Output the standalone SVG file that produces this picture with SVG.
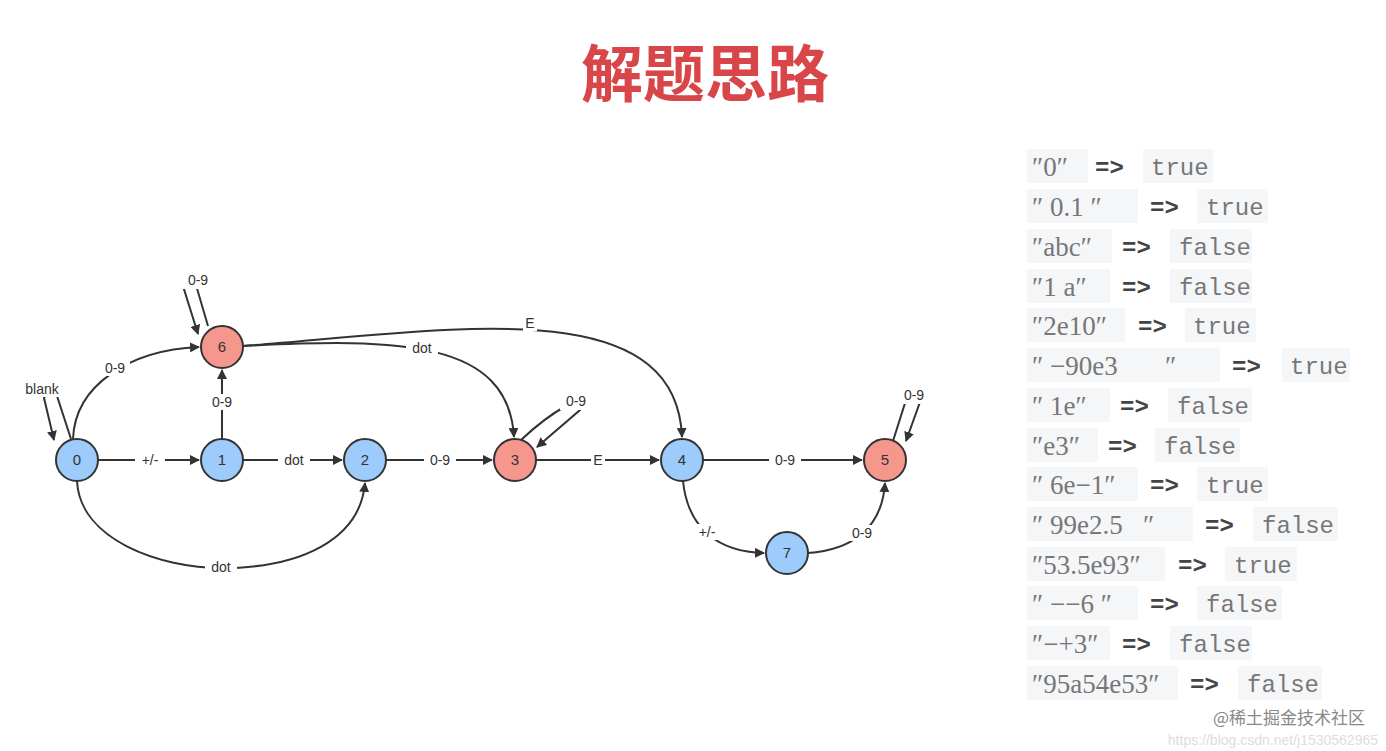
<svg xmlns="http://www.w3.org/2000/svg" width="1386" height="751" viewBox="0 0 1386 751">
<style>
.n{stroke:#333;stroke-width:2}
.b{fill:#9dcbfb}.r{fill:#f6978d}
.nt{font-family:"Liberation Sans",Arial,sans-serif;font-size:15px;fill:#333;text-anchor:middle}
.e{fill:none;stroke:#333;stroke-width:2}
.l{font-family:"Liberation Sans",Arial,sans-serif;font-size:14px;fill:#333;text-anchor:middle}
.lb{fill:#fff}
.bx{fill:#f5f6f8}
.q{font-family:"Liberation Serif","Noto Sans CJK SC",serif;font-size:27px;fill:#777}
.m{font-family:"Liberation Mono",monospace;font-size:24px;fill:#777}
.a{font-family:"Liberation Mono",monospace;font-size:24px;fill:#444;font-weight:bold}
</style>
<defs><marker id="ar" markerWidth="10" markerHeight="10" refX="9" refY="5" orient="auto" markerUnits="userSpaceOnUse"><path d="M0,0 L10,5 L0,10 Z" fill="#333"/></marker></defs>
<rect width="1386" height="751" fill="#fff"/>
<text x="705" y="97" text-anchor="middle" font-family="Noto Sans CJK SC,sans-serif" font-weight="bold" font-size="62" fill="#d9464a">解题思路</text>
<g id="connectors">
<path class="e" d="M71,439 L57,396 Q50,385 44,398 L54,440" marker-end="url(#ar)"/>
<path class="e" d="M73,439 C75,385 130,350 199,347" marker-end="url(#ar)"/>
<path class="e" d="M98,460 L199,460" marker-end="url(#ar)"/>
<path class="e" d="M243,460 L342,460" marker-end="url(#ar)"/>
<path class="e" d="M386,460 L492,460" marker-end="url(#ar)"/>
<path class="e" d="M536,460 L659,460" marker-end="url(#ar)"/>
<path class="e" d="M703,460 L862,460" marker-end="url(#ar)"/>
<path class="e" d="M222,439 L222,370" marker-end="url(#ar)"/>
<path class="e" d="M208,326 L196,285 Q190,272 183,286 L198,334" marker-end="url(#ar)"/>
<path class="e" d="M243,346 C400,338 508,340 514,437" marker-end="url(#ar)"/>
<path class="e" d="M243,346 C450,330 676,290 682,437" marker-end="url(#ar)"/>
<path class="e" d="M521,440 C540,422 555,412 566,406 Q578,398 580,410 L537,447" marker-end="url(#ar)"/>
<path class="e" d="M893,441 L906,400 Q914,390 920,402 L906,441" marker-end="url(#ar)"/>
<path class="e" d="M77,481 C80,540 160,568 222,568 C300,568 360,540 365,483" marker-end="url(#ar)"/>
<path class="e" d="M683,481 C688,530 720,552 764,553" marker-end="url(#ar)"/>
<path class="e" d="M808,553 C850,550 882,530 885,483" marker-end="url(#ar)"/>
<g>
<rect class="lb" x="98" y="360" width="32" height="16"/><text class="l" x="115" y="373">0-9</text>
<rect class="lb" x="135" y="452" width="30" height="16"/><text class="l" x="150" y="465">+/-</text>
<rect class="lb" x="278" y="452" width="32" height="16"/><text class="l" x="294" y="465">dot</text>
<rect class="lb" x="424" y="452" width="32" height="16"/><text class="l" x="440" y="465">0-9</text>
<rect class="lb" x="591" y="452" width="14" height="16"/><text class="l" x="598" y="465">E</text>
<rect class="lb" x="769" y="452" width="32" height="16"/><text class="l" x="785" y="465">0-9</text>
<rect class="lb" x="206" y="394" width="32" height="16"/><text class="l" x="222" y="407">0-9</text>
<rect class="lb" x="406" y="340" width="32" height="16"/><text class="l" x="422" y="353">dot</text>
<rect class="lb" x="523" y="315" width="14" height="16"/><text class="l" x="530" y="328">E</text>
<rect class="lb" x="205" y="559" width="32" height="16"/><text class="l" x="221" y="572">dot</text>
<rect class="lb" x="692" y="524" width="30" height="16"/><text class="l" x="707" y="537">+/-</text>
<rect class="lb" x="846" y="525" width="32" height="16"/><text class="l" x="862" y="538">0-9</text>
<rect class="lb" x="22" y="379" width="40" height="18"/><text class="l" x="42" y="394">blank</text>
<rect class="lb" x="182" y="271" width="32" height="18"/><text class="l" x="198" y="285">0-9</text>
<rect class="lb" x="560" y="392" width="32" height="18"/><text class="l" x="576" y="406">0-9</text>
<rect class="lb" x="898" y="386" width="32" height="18"/><text class="l" x="914" y="400">0-9</text>
</g>
</g>
<g id="n0"><circle class="n b" cx="77" cy="460" r="21"/><text class="nt" x="77" y="465">0</text></g>
<g id="n1"><circle class="n b" cx="222" cy="460" r="21"/><text class="nt" x="222" y="465">1</text></g>
<g id="n2"><circle class="n b" cx="365" cy="460" r="21"/><text class="nt" x="365" y="465">2</text></g>
<g id="n3"><circle class="n r" cx="515" cy="460" r="21"/><text class="nt" x="515" y="465">3</text></g>
<g id="n4"><circle class="n b" cx="682" cy="460" r="21"/><text class="nt" x="682" y="465">4</text></g>
<g id="n5"><circle class="n r" cx="885" cy="460" r="21"/><text class="nt" x="885" y="465">5</text></g>
<g id="n6"><circle class="n r" cx="222" cy="347" r="21"/><text class="nt" x="222" y="352">6</text></g>
<g id="n7"><circle class="n b" cx="787" cy="553" r="21"/><text class="nt" x="787" y="558">7</text></g>
<g id="examples">
<rect class="bx" x="1027" y="149" width="61" height="34"/><text class="q" x="1032" y="176">″0″</text><text class="a" x="1095" y="175">=&gt;</text><rect class="bx" x="1143" y="149" width="70" height="34"/><text class="m" x="1151" y="175">true</text>
<rect class="bx" x="1027" y="189" width="111" height="34"/><text class="q" x="1032" y="216" xml:space="preserve">″ 0.1 ″</text><text class="a" x="1150" y="215">=&gt;</text><rect class="bx" x="1197" y="189" width="71" height="34"/><text class="m" x="1206" y="215">true</text>
<rect class="bx" x="1027" y="229" width="85" height="34"/><text class="q" x="1032" y="256">″abc″</text><text class="a" x="1122" y="255">=&gt;</text><rect class="bx" x="1170" y="229" width="82" height="34"/><text class="m" x="1179" y="255">false</text>
<rect class="bx" x="1027" y="269" width="83" height="34"/><text class="q" x="1032" y="296" xml:space="preserve">″1 a″</text><text class="a" x="1122" y="295">=&gt;</text><rect class="bx" x="1170" y="269" width="82" height="34"/><text class="m" x="1179" y="295">false</text>
<rect class="bx" x="1027" y="308" width="98" height="34"/><text class="q" x="1032" y="335">″2e10″</text><text class="a" x="1138" y="334">=&gt;</text><rect class="bx" x="1185" y="308" width="71" height="34"/><text class="m" x="1193" y="334">true</text>
<rect class="bx" x="1027" y="348" width="193" height="34"/><text class="q" x="1032" y="375" xml:space="preserve">″ −90e3       ″</text><text class="a" x="1232" y="374">=&gt;</text><rect class="bx" x="1282" y="348" width="68" height="34"/><text class="m" x="1290" y="374">true</text>
<rect class="bx" x="1027" y="388" width="83" height="34"/><text class="q" x="1032" y="415" xml:space="preserve">″ 1e″</text><text class="a" x="1120" y="414">=&gt;</text><rect class="bx" x="1168" y="388" width="84" height="34"/><text class="m" x="1177" y="414">false</text>
<rect class="bx" x="1027" y="428" width="71" height="34"/><text class="q" x="1032" y="455">″e3″</text><text class="a" x="1108" y="454">=&gt;</text><rect class="bx" x="1155" y="428" width="85" height="34"/><text class="m" x="1164" y="454">false</text>
<rect class="bx" x="1027" y="467" width="111" height="34"/><text class="q" x="1032" y="494" xml:space="preserve">″ 6e−1″</text><text class="a" x="1150" y="493">=&gt;</text><rect class="bx" x="1197" y="467" width="71" height="34"/><text class="m" x="1206" y="493">true</text>
<rect class="bx" x="1027" y="507" width="166" height="34"/><text class="q" x="1032" y="534" xml:space="preserve">″ 99e2.5   ″</text><text class="a" x="1205" y="533">=&gt;</text><rect class="bx" x="1253" y="507" width="85" height="34"/><text class="m" x="1262" y="533">false</text>
<rect class="bx" x="1027" y="547" width="138" height="34"/><text class="q" x="1032" y="574">″53.5e93″</text><text class="a" x="1178" y="573">=&gt;</text><rect class="bx" x="1225" y="547" width="72" height="34"/><text class="m" x="1234" y="573">true</text>
<rect class="bx" x="1027" y="586" width="111" height="34"/><text class="q" x="1032" y="613" xml:space="preserve">″ −−6 ″</text><text class="a" x="1150" y="612">=&gt;</text><rect class="bx" x="1197" y="586" width="85" height="34"/><text class="m" x="1206" y="612">false</text>
<rect class="bx" x="1027" y="626" width="83" height="34"/><text class="q" x="1032" y="653">″−+3″</text><text class="a" x="1122" y="652">=&gt;</text><rect class="bx" x="1170" y="626" width="82" height="34"/><text class="m" x="1179" y="652">false</text>
<rect class="bx" x="1027" y="666" width="151" height="34"/><text class="q" x="1032" y="693">″95a54e53″</text><text class="a" x="1190" y="692">=&gt;</text><rect class="bx" x="1238" y="666" width="84" height="34"/><text class="m" x="1247" y="692">false</text>
</g>
<text x="1365" y="724" text-anchor="end" font-family="Noto Sans CJK SC,sans-serif" font-size="17" fill="#888">@稀土掘金技术社区</text>
<text x="1378" y="745" text-anchor="end" font-family="Liberation Sans,sans-serif" font-size="14" fill="#ddd">https://blog.csdn.net/j1530562965</text>
</svg>
